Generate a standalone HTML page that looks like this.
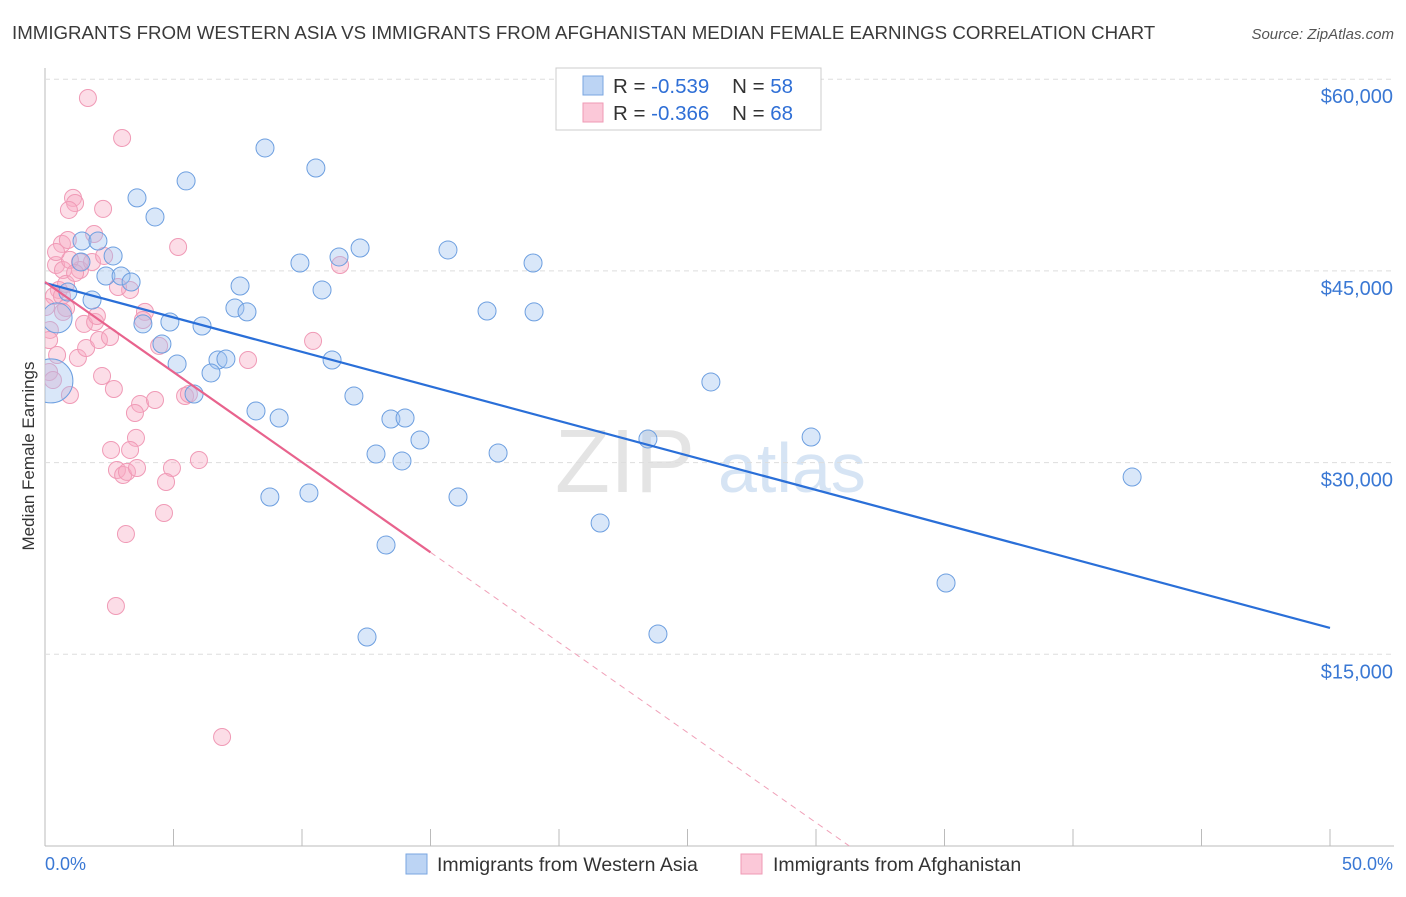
<!DOCTYPE html>
<html><head><meta charset="utf-8"><style>
body{margin:0;background:#fff;font-family:"Liberation Sans",sans-serif;}
svg text{font-family:"Liberation Sans",sans-serif;}
</style></head><body>
<svg id="c" width="1406" height="892">
<defs><clipPath id="plotclip"><rect x="45" y="60" width="1360" height="786"/></clipPath></defs>
<text x="12" y="39" font-size="18.7" fill="#3a3a3a">IMMIGRANTS FROM WESTERN ASIA VS IMMIGRANTS FROM AFGHANISTAN MEDIAN FEMALE EARNINGS CORRELATION CHART</text>
<text x="1394" y="39" font-size="15" fill="#555" text-anchor="end" font-style="italic">Source: ZipAtlas.com</text>
<text transform="translate(34,456) rotate(-90)" font-size="17" fill="#333" text-anchor="middle">Median Female Earnings</text>
<text x="555" y="492" font-size="90" fill="#e4e4e4" font-family="Liberation Serif">ZIP</text>
<text x="718" y="492" font-size="70" fill="#d6e4f4">atlas</text>
<g id="grid"></g><g id="pts" clip-path="url(#plotclip)"></g><g id="lines"></g>
<g>
<rect x="556" y="68" width="265" height="62" fill="#fff" stroke="#ccc"/>
<rect x="583" y="76" width="20" height="19" fill="#bcd4f4" stroke="#7aa6e0"/>
<rect x="583" y="103" width="20" height="19" fill="#fbc8d8" stroke="#ef9ab5"/>
<text x="613" y="93" font-size="20.5" fill="#333">R = <tspan fill="#2f6fd6">-0.539</tspan>&#160;&#160;&#160;&#160;N = <tspan fill="#2f6fd6">58</tspan></text>
<text x="613" y="120" font-size="20.5" fill="#333">R = <tspan fill="#2f6fd6">-0.366</tspan>&#160;&#160;&#160;&#160;N = <tspan fill="#2f6fd6">68</tspan></text>
</g>
<g>
<rect x="406" y="854" width="21" height="20" fill="#bcd4f4" stroke="#7aa6e0"/>
<text x="437" y="871" font-size="19.5" fill="#333">Immigrants from Western Asia</text>
<rect x="741" y="854" width="21" height="20" fill="#fbc8d8" stroke="#ef9ab5"/>
<text x="773" y="871" font-size="19.5" fill="#333">Immigrants from Afghanistan</text>
</g>
<text x="45" y="870" font-size="18" fill="#3a78d4">0.0%</text>
<text x="1393" y="870" font-size="18" fill="#3a78d4" text-anchor="end">50.0%</text>
</svg>
<script>
const blueX=[8.56,10.54,5.49,3.58,4.28,1.44,2.06,2.65,1.40,2.37,2.96,3.35,9.92,11.44,12.26,15.68,18.99,7.59,10.78,1.83,0.89,0.47,0.23,4.86,6.11,7.39,7.86,17.2,19.03,4.55,5.14,6.73,7.04,6.46,5.8,11.17,25.91,12.02,8.21,9.11,13.46,14.01,14.59,12.88,13.89,17.63,23.46,29.81,42.3,8.75,10.27,16.07,21.6,13.27,35.06,12.53,23.85,3.81];
const blueY=[54620,53050,52040,50710,49220,47340,47340,46170,45700,44600,44600,44130,45620,46090,46790,46640,45620,43820,43510,42720,43350,41320,36390,41000,40690,42100,41790,41860,41790,39280,37720,38030,38110,37010,35370,38030,36310,35210,34040,33490,33410,33490,31770,30670,30130,30750,31850,32000,28870,27310,27620,27310,25270,23550,20580,16350,16590,40850];
const blueR=blueX.map((v,i)=>i===21?15:(i===22?22:9));
const pinkX=[1.67,3.0,1.09,1.17,0.93,2.26,0.66,0.89,1.91,5.18,0.43,0.7,1.36,1.36,0.97,0.54,0.35,0.66,0.82,0.19,0.16,0.47,1.28,1.6,1.52,2.1,2.53,1.95,3.31,3.89,3.81,2.84,4.44,7.9,10.43,11.48,0.97,2.22,2.68,3.7,4.28,3.5,5.45,5.6,3.54,2.57,3.31,2.8,3.04,3.19,3.58,4.94,5.99,4.71,4.63,3.15,2.76,6.89,0.16,0.31,0.82,1.17,1.83,2.3,0.43,0.04,0.7,2.02];
const pinkY=[58530,55400,50710,50310,49770,49850,47110,47420,47890,46870,45460,45070,45700,45070,45860,43510,43040,43040,42100,40380,39590,38420,38190,38970,40850,39590,39830,41000,43510,41790,41160,43740,39130,38030,39520,45460,35290,36780,35760,34590,34900,33880,35210,35370,31930,30990,30990,29420,29030,29270,29580,29580,30200,28480,26060,24410,18780,8530,37090,36460,43980,44840,45700,46170,46480,42180,41790,41470];
const yTicks=[15000,30000,45000,60000];
const yTickLabels=["$15,000","$30,000","$45,000","$60,000"];
const blueFit=[44060,17060];
const pinkFit=[44130,-1410];
const pinkSolidEnd=15;
const X=v=>45+v/50*1285, Y=v=>846-v/15000*191.7;
const NS="http://www.w3.org/2000/svg";
function mk(p,t,a){const e=document.createElementNS(NS,t);for(const k in a)e.setAttribute(k,a[k]);document.getElementById(p).appendChild(e);return e;}
let ax=mk('grid','line',{x1:45,y1:68,x2:45,y2:846,stroke:'#bbb'});


let bx=mk('grid','line',{x1:45,y1:846,x2:1394,y2:846,stroke:'#bbb'});


for(let i=0;i<=10;i++){const t=mk('grid','line',{x1:X(i*5),x2:X(i*5),y1:829,y2:846,stroke:'#bbb'});

}
yTicks.forEach((v,i)=>{const g=mk('grid','line',{x1:45,x2:1394,y1:Y(v),y2:Y(v),stroke:'#ddd','stroke-dasharray':'5,4'});


const t=mk('grid','text',{x:1393,y:Y(v)+24,'font-size':20,fill:'#3a78d4','text-anchor':'end'});t.textContent=yTickLabels[i];

});
pinkX.forEach((v,i)=>{const c=mk('pts','circle',{cx:X(v),cy:Y(pinkY[i]),r:8.5,fill:'rgba(248,170,195,0.4)',stroke:'#f09ab6','stroke-width':1});

});
blueX.forEach((v,i)=>{const c=mk('pts','circle',{cx:X(v),cy:Y(blueY[i]),r:blueR[i],fill:'rgba(160,195,240,0.4)',stroke:'#6d9fe0','stroke-width':1});

});
let bl=mk('lines','line',{x1:X(0),y1:Y(blueFit[0]),x2:X(50),y2:Y(blueFit[1]),stroke:'#2a6fd8','stroke-width':2.2});


const pz=-pinkFit[0]/pinkFit[1];
let pl=mk('lines','line',{x1:X(0),y1:Y(pinkFit[0]),x2:X(pinkSolidEnd),y2:Y(pinkFit[0]+pinkFit[1]*pinkSolidEnd),stroke:'#e8638d','stroke-width':2.2});


let pd=mk('lines','line',{x1:X(pinkSolidEnd),y1:Y(pinkFit[0]+pinkFit[1]*pinkSolidEnd),x2:X(pz),y2:Y(0),stroke:'#f0a0b8','stroke-width':1,'stroke-dasharray':'6,5'});


</script>
</body></html>
